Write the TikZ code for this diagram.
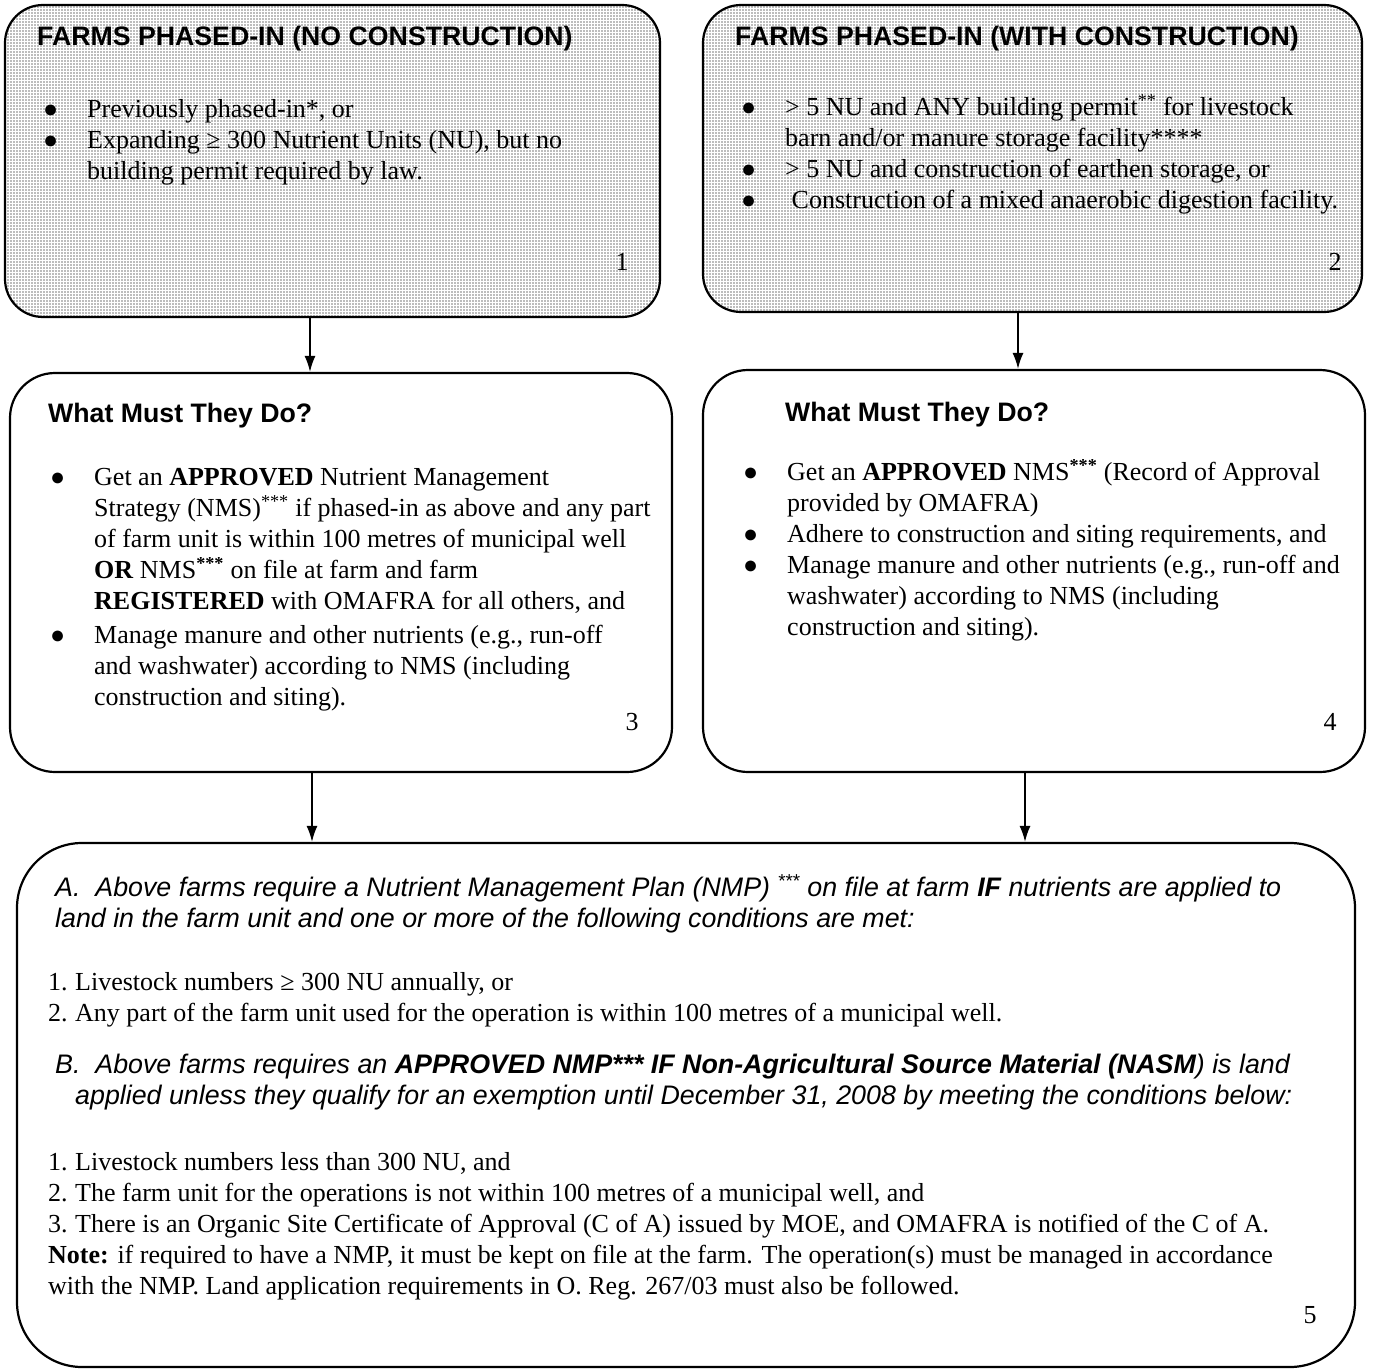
\documentclass[tikz,border=0pt]{standalone}
\usepackage{fontspec}
\setmainfont{Liberation Serif}
\setsansfont{Liberation Sans}
\usetikzlibrary{arrows.meta,patterns}
\tikzset{>={Latex[length=16pt,width=11pt]}}
\newcommand\bodyfont{\fontsize{26}{31}\selectfont}
\newcommand\bul{\makebox[44pt][l]{\raisebox{0pt}{\fontsize{25}{31}\selectfont ●}}}
\newcommand\hang{\hspace*{44pt}}
\newcommand\itm[1]{\makebox[27pt][l]{#1}}
\tikzset{
  farmbox/.style={draw,line width=2.2pt,rounded corners=38pt,preaction={fill=gray!52},
    pattern=grid,pattern color=white},
  stepbox/.style={draw,line width=2.2pt,rounded corners=45pt,fill=white},
  txt/.style={anchor=north west,inner sep=0pt,align=left,font=\bodyfont},
  hd/.style={anchor=base west,inner sep=0pt,font=\sffamily\bfseries\fontsize{26.7}{30}\selectfont},
  itxt/.style={anchor=north west,inner sep=0pt,align=left,font=\sffamily\itshape\fontsize{26.8}{31}\selectfont},
  num/.style={inner sep=0pt,font=\bodyfont},
}

\begin{document}
\begin{tikzpicture}[x=1pt,y=-1pt]
\useasboundingbox (0,0) rectangle (1374,1370);

% boxes
\node[farmbox,minimum width=655pt,minimum height=312pt] (b1) at (332.5,161) {};
\node[farmbox,minimum width=659pt,minimum height=307pt] (b2) at (1032.5,158.5) {};
\node[stepbox,minimum width=662pt,minimum height=399pt] (b3) at (341,572.5) {};
\node[stepbox,minimum width=662pt,minimum height=402pt] (b4) at (1034,571) {};
\node[stepbox,rounded corners=65pt,minimum width=1338pt,minimum height=524pt] (b5) at (686,1105) {};

% box 1
\node[hd] (h1) at (37,46) {FARMS PHASED-IN (NO CONSTRUCTION)};
\node[txt] (t1) at (43,117-21.7) {\strut\bul Previously phased-in*, or\\
\bul Expanding ≥ 300 Nutrient Units (NU), but no\\
\hang building permit required by law.};
\node[num] (n1) at (622,262) {1};

% box 2
\node[hd] (h2) at (735,46) {FARMS PHASED-IN (WITH CONSTRUCTION)};
\node[txt] (t2) at (741,115-21.7) {\strut\bul > 5 NU and ANY building permit\textsuperscript{**} for livestock\\
\hang barn and/or manure storage facility****\\
\bul > 5 NU and construction of earthen storage, or\\
\bul \ Construction of a mixed anaerobic digestion facility.};
\node[num] (n2) at (1335,262) {2};

% box 3
\node[hd] (h3) at (48,422) {What Must They Do?};
\node[txt] (t3) at (50,485-21.7) {\strut\bul Get an \textbf{APPROVED} Nutrient Management\\
\hang Strategy (NMS)\textsuperscript{***} if phased-in as above and any part\\
\hang of farm unit is within 100 metres of municipal well\\
\hang \textbf{OR} NMS\textsuperscript{\textbf{***}} on file at farm and farm\\
\hang \textbf{REGISTERED} with OMAFRA for all others, and\\[3pt]
\bul Manage manure and other nutrients (e.g., run-off\\
\hang and washwater) according to NMS (including\\
\hang construction and siting).};
\node[num] (n3) at (632,722) {3};

% box 4
\node[hd] (h4) at (785,421) {What Must They Do?};
\node[txt] (t4) at (743,480-21.7) {\strut\bul Get an \textbf{APPROVED} NMS\textsuperscript{\textbf{***}} (Record of Approval\\
\hang provided by OMAFRA)\\
\bul Adhere to construction and siting requirements, and\\
\bul Manage manure and other nutrients (e.g., run-off and\\
\hang washwater) according to NMS (including\\
\hang construction and siting).};
\node[num] (n4) at (1330,722) {4};

% box 5
\node[itxt] (a5) at (55,896-21.7) {\strut A.\ \ Above farms require a Nutrient Management Plan (NMP) \textsuperscript{***} on file at farm \textbf{IF} nutrients are applied to\\
land in the farm unit and one or more of the following conditions are met:};
\node[txt] (l5a) at (48,990-21.7) {\strut\itm{1.}Livestock numbers ≥ 300 NU annually, or\\
\itm{2.}Any part of the farm unit used for the operation is within 100 metres of a municipal well.};
\node[itxt] (bb5) at (55,1073-21.7) {\strut B.\ \ Above farms requires an \textbf{APPROVED NMP*** IF Non-Agricultural Source Material (NASM}) is land\\
\hspace*{20pt}applied unless they qualify for an exemption until December 31, 2008 by meeting the conditions below:};
\node[txt] (l5b) at (48,1170-21.7) {\strut\itm{1.}Livestock numbers less than 300 NU, and\\
\itm{2.}The farm unit for the operations is not within 100 metres of a municipal well, and\\
\itm{3.}There is an Organic Site Certificate of Approval (C of A) issued by MOE, and OMAFRA is notified of the C of A.\\
\textbf{Note:} if required to have a NMP, it must be kept on file at the farm. The operation(s) must be managed in accordance\\
with the NMP. Land application requirements in O. Reg. 267/03 must also be followed.};
\node[num] (n5) at (1310,1315) {5};

% arrows
\coordinate (a1) at (310,0);
\coordinate (a2) at (1018,0);
\coordinate (a3) at (312,0);
\coordinate (a4) at (1025,0);
\draw[->,line width=1.6pt] (b1.south -| a1) -- (b3.north -| a1);
\draw[->,line width=1.6pt] (b2.south -| a2) -- (b4.north -| a2);
\draw[->,line width=1.6pt] (b3.south -| a3) -- (b5.north -| a3);
\draw[->,line width=1.6pt] (b4.south -| a4) -- (b5.north -| a4);
\end{tikzpicture}
\end{document}
